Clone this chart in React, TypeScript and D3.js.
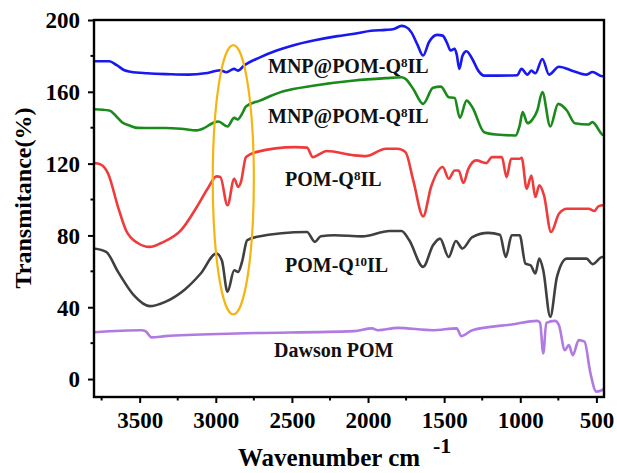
import { useEffect, useRef } from 'react';
import * as d3 from 'd3';

// FTIR traces: wavenumber (cm-1) and transmittance (%)
const mnpTopWn = [3800, 3700, 3650, 3600, 3560, 3450, 3300, 3180, 3070, 2970, 2930, 2880, 2855, 2815, 2710, 2600, 2500, 2350, 2200, 2090, 1980, 1885, 1830, 1780, 1755, 1715, 1677, 1638, 1600, 1547, 1510, 1483, 1457, 1431, 1418, 1400, 1380, 1353, 1315, 1276, 1237, 1150, 1020, 992, 953, 927, 901, 855, 811, 746, 650, 565, 526, 461, 450];
const mnpTopT = [177, 177, 174.8, 172, 171.2, 170.3, 169.8, 169.6, 170.3, 172, 170.9, 172.8, 171.8, 174.6, 179.2, 183, 185.7, 188.7, 191, 192.3, 194, 194.5, 195, 196.7, 196.3, 193.1, 186.6, 180.2, 187.6, 191.7, 191.3, 187.6, 183, 184, 181, 172.8, 180, 182.6, 178.3, 171.8, 169, 169, 169.2, 172.8, 169.6, 171.8, 170.3, 178.3, 169.6, 174, 171.5, 169.6, 171, 168.7, 168.7];

const mnpLowWn = [3800, 3700, 3650, 3616, 3560, 3513, 3400, 3330, 3228, 3125, 3086, 3022, 2983, 2923, 2879, 2856, 2828, 2802, 2711, 2556, 2350, 2090, 1884, 1780, 1754, 1703, 1638, 1573, 1521, 1470, 1431, 1397, 1353, 1315, 1237, 1160, 1030, 1004, 984, 953, 922, 888, 855, 803, 751, 694, 642, 551, 526, 461, 450];
const mnpLowT = [150.3, 149.6, 146, 143.1, 141, 139.9, 139.8, 139.8, 139.4, 138.5, 139.4, 142.5, 143.5, 140.7, 145.5, 144.6, 147.7, 151.8, 155.1, 160.3, 163.5, 166.3, 167.6, 168.1, 167.2, 161.6, 153.3, 162.2, 162.9, 157, 156.6, 145.5, 155.1, 151.4, 137.5, 136.2, 135.7, 141.2, 148.7, 142.5, 144.4, 149.6, 159.8, 140.7, 153.3, 149.6, 142.5, 141.8, 143.1, 136.2, 135.8];

const pomQ8Wn = [3800, 3758, 3707, 3642, 3590, 3513, 3435, 3358, 3228, 3125, 3047, 2996, 2970, 2923, 2879, 2853, 2835, 2802, 2737, 2478, 2401, 2362, 2323, 2272, 2091, 2013, 1884, 1806, 1754, 1703, 1638, 1586, 1509, 1470, 1431, 1405, 1374, 1341, 1289, 1224, 1185, 1121, 1090, 1060, 1004, 991, 958, 927, 901, 875, 844, 798, 746, 694, 551, 513, 487, 456, 450];
const pomQ8T = [120.3, 119.6, 114.4, 95.8, 82.9, 75.8, 73.6, 75.8, 82.9, 95.8, 107, 112.9, 112.5, 96.8, 111.6, 107, 109.7, 123.6, 126.4, 129.2, 128.9, 123.6, 125.1, 127, 124.6, 124.2, 128.3, 128.3, 126.4, 110.7, 90.6, 107, 118.1, 111.6, 116.2, 116.2, 109.2, 117.1, 121.8, 120.3, 123.6, 123.6, 112.5, 122.7, 122.7, 123.3, 106, 113.4, 101.4, 107.9, 102.3, 81.9, 92.1, 94.9, 94.9, 93.6, 96.2, 96.8, 96.8];

const pomQ10Wn = [3800, 3720, 3642, 3539, 3435, 3332, 3203, 3099, 2996, 2960, 2923, 2879, 2853, 2828, 2794, 2737, 2401, 2349, 2310, 2220, 2039, 1858, 1780, 1729, 1638, 1573, 1527, 1470, 1423, 1380, 1315, 1211, 1134, 1095, 1056, 1004, 966, 932, 901, 875, 849, 803, 759, 694, 565, 526, 461, 450];
const pomQ10T = [72.7, 70.8, 59.7, 46.7, 40.6, 43, 49.9, 58.8, 69.9, 66, 48.6, 60.6, 59.7, 65.2, 77.3, 79.1, 81.9, 76.4, 79.5, 80.1, 79.5, 82.5, 82.5, 77.3, 62.5, 74.5, 78.2, 68, 76.9, 72.7, 79.1, 81.4, 80.4, 68, 80.1, 80.1, 64.3, 63.4, 58.8, 67.1, 60.6, 34.7, 56.9, 67.1, 67.1, 64, 68, 68];

const dawsonWn = [3800, 3487, 3460, 3422, 3332, 2866, 2091, 1974, 1935, 1806, 1573, 1418, 1387, 1315, 1056, 888, 870, 849, 829, 772, 746, 707, 681, 655, 616, 578, 539, 500, 461, 450];
const dawsonT = [26.1, 27.2, 26.5, 23.2, 23.9, 25.4, 26.7, 28.2, 27.2, 28.5, 27.2, 28.2, 23.9, 27.2, 30.4, 32.4, 31.3, 14.3, 31.3, 32.4, 30, 16.1, 18.9, 13.3, 21.7, 20.8, 3.2, -7, -6.1, -5.5];

const traceColors = ['#1818f0', '#1a8a1a', '#ef3b3b', '#404040', '#b07ae2'];

// label text split into main / superscript / tail
const labelMain = ['MNP@POM-Q', 'MNP@POM-Q', 'POM-Q', 'POM-Q', 'Dawson POM'];
const labelSup = ['8', '8', '8', '10', ''];
const labelTail = ['IL', 'IL', 'IL', 'IL', ''];

const xTicks = [3500, 3000, 2500, 2000, 1500, 1000, 500];
const xMinorTicks = [3750, 3250, 2750, 2250, 1750, 1250, 750];
const yTicks = [0, 40, 80, 120, 160, 200];
const yMinorTicks = [20, 60, 100, 140, 180];

const FONT = "'Liberation Serif', 'Times New Roman', serif";

const App = () => {
	const ref = useRef(null);

	useEffect(() => {
		const width = 617,
			height = 473;
		const margin = { top: 20, right: 13, bottom: 76, left: 94 };

		const svg = d3.select(ref.current).attr('width', width).attr('height', height);
		svg.selectAll('*').remove();

		const x = d3
			.scaleLinear()
			.domain([3800, 450])
			.range([margin.left, width - margin.right]);
		const y = d3
			.scaleLinear()
			.domain([-10, 200])
			.range([height - margin.bottom, margin.top]);

		const traces = [
			d3.zip(mnpTopWn, mnpTopT),
			d3.zip(mnpLowWn, mnpLowT),
			d3.zip(pomQ8Wn, pomQ8T),
			d3.zip(pomQ10Wn, pomQ10T),
			d3.zip(dawsonWn, dawsonT),
		];

		const line = d3
			.line()
			.x((d) => x(d[0]))
			.y((d) => y(d[1]))
			.curve(d3.curveMonotoneX);

		svg
			.append('g')
			.selectAll('path')
			.data(traces)
			.join('path')
			.attr('d', (d) => line(d))
			.attr('fill', 'none')
			.attr('stroke', (d, i) => traceColors[i])
			.attr('stroke-width', 2.6)
			.attr('stroke-linejoin', 'round');

		// highlight ellipse around the C-H stretch region
		const cx = 2885,
			cy = 111;
		svg
			.append('ellipse')
			.attr('cx', x(cx))
			.attr('cy', y(cy))
			.attr('rx', x(cx - 135) - x(cx))
			.attr('ry', y(cy - 75) - y(cy))
			.attr('fill', 'none')
			.attr('stroke', '#f6b410')
			.attr('stroke-width', 2.2);

		// frame
		svg
			.append('rect')
			.attr('x', margin.left)
			.attr('y', margin.top)
			.attr('width', width - margin.left - margin.right)
			.attr('height', height - margin.top - margin.bottom)
			.attr('fill', 'none')
			.attr('stroke', '#000')
			.attr('stroke-width', 2.4);

		// x axis
		const xAxis = svg.append('g').attr('transform', `translate(0, ${height - margin.bottom})`);
		xAxis
			.call(d3.axisBottom(x).tickValues(xTicks).tickSize(6).tickFormat(d3.format('d')))
			.call((g) => g.select('.domain').remove());
		xAxis
			.selectAll('.tick line')
			.attr('stroke-width', 2);
		xAxis
			.selectAll('text')
			.attr('dy', 0)
			.attr('y', 31)
			.style('font-family', FONT)
			.style('font-weight', 'bold')
			.style('font-size', '23px')
			.attr('fill', '#000');
		svg
			.append('g')
			.selectAll('line')
			.data(xMinorTicks)
			.join('line')
			.attr('x1', (d) => x(d))
			.attr('x2', (d) => x(d))
			.attr('y1', height - margin.bottom)
			.attr('y2', height - margin.bottom + 3.5)
			.attr('stroke', '#000')
			.attr('stroke-width', 2);

		// y axis
		const yAxis = svg.append('g').attr('transform', `translate(${margin.left}, 0)`);
		yAxis
			.call(d3.axisLeft(y).tickValues(yTicks).tickSize(6))
			.call((g) => g.select('.domain').remove());
		yAxis.selectAll('.tick line').attr('stroke-width', 2);
		yAxis
			.selectAll('text')
			.attr('x', -14)
			.attr('dy', '0.34em')
			.style('font-family', FONT)
			.style('font-weight', 'bold')
			.style('font-size', '23px')
			.attr('fill', '#000');
		svg
			.append('g')
			.selectAll('line')
			.data(yMinorTicks)
			.join('line')
			.attr('x1', margin.left - 3.5)
			.attr('x2', margin.left)
			.attr('y1', (d) => y(d))
			.attr('y2', (d) => y(d))
			.attr('stroke', '#000')
			.attr('stroke-width', 2);

		// trace labels
		const labelPos = [
			[268, 73],
			[268, 123],
			[285, 186],
			[285, 272],
			[274, 357],
		];
		labelMain.forEach((m, i) => {
			const t = svg
				.append('text')
				.attr('x', labelPos[i][0])
				.attr('y', labelPos[i][1])
				.style('font-family', FONT)
				.style('font-weight', 'bold')
				.style('font-size', '20px')
				.attr('fill', '#111');
			t.append('tspan').text(m);
			if (labelSup[i]) {
				t.append('tspan').attr('dy', -6).style('font-size', '13px').text(labelSup[i]);
				t.append('tspan').attr('dy', 6).text(labelTail[i]);
			}
		});

		// axis titles
		svg
			.append('text')
			.attr('transform', `translate(31, 198) rotate(-90)`)
			.attr('text-anchor', 'middle')
			.style('font-family', FONT)
			.style('font-weight', 'bold')
			.style('font-size', '24px')
			.text('Transmitance(%)');

		svg
			.append('text')
			.attr('x', 238)
			.attr('y', 466)
			.style('font-family', FONT)
			.style('font-weight', 'bold')
			.style('font-size', '25px')
			.text('Wavenumber cm');
		svg
			.append('text')
			.attr('x', 433)
			.attr('y', 453)
			.style('font-family', FONT)
			.style('font-weight', 'bold')
			.style('font-size', '22px')
			.text('-1');
	}, []);

	return (
		<svg
			ref={ref}
			width={617}
			height={473}
			style={{ position: 'absolute', left: 0, top: 0, background: '#fff' }}
		></svg>
	);
};

export default App;
